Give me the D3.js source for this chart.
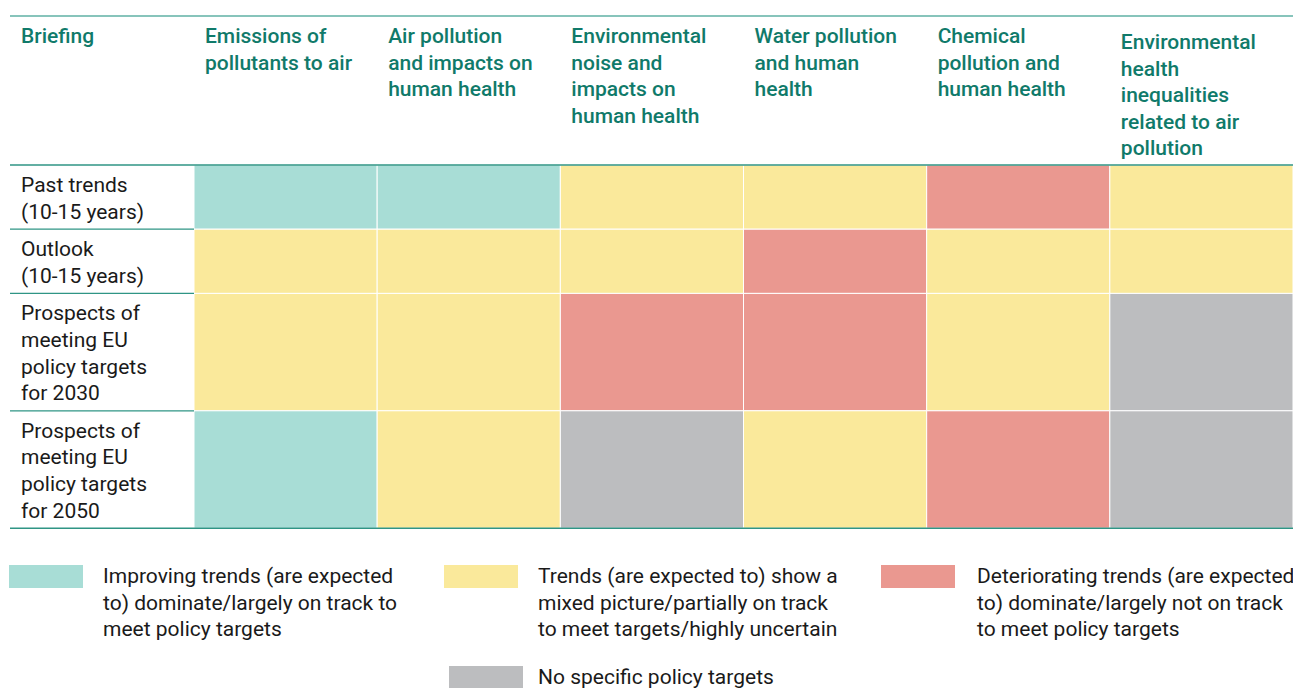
<!DOCTYPE html>
<html>
<head>
<meta charset="utf-8">
<script src="https://cdn.jsdelivr.net/npm/d3@7"></script>
<style>
  body { margin: 0; background: #fff; }
  svg { display: block; font-family: Roboto, "Noto Sans", sans-serif; }
</style>
</head>
<body>
<svg id="chart"></svg>
<script>
var width = 1293;
var height = 688;

// column headers (first is the row-label column)
var corner = ["Briefing"];
var columns = [
  ["Emissions of", "pollutants to air"],
  ["Air pollution", "and impacts on", "human health"],
  ["Environmental", "noise and", "impacts on", "human health"],
  ["Water pollution", "and human", "health"],
  ["Chemical", "pollution and", "human health"],
  ["Environmental", "health", "inequalities", "related to air", "pollution"]
];

var rows = [
  ["Past trends", "(10-15 years)"],
  ["Outlook", "(10-15 years)"],
  ["Prospects of", "meeting EU", "policy targets", "for 2030"],
  ["Prospects of", "meeting EU", "policy targets", "for 2050"]
];

// status per row, one entry per column
var pastTrends = ["improving", "improving", "mixed", "mixed", "deteriorating", "mixed"];
var outlook    = ["mixed", "mixed", "mixed", "deteriorating", "mixed", "mixed"];
var targets2030 = ["mixed", "mixed", "deteriorating", "deteriorating", "mixed", "none"];
var targets2050 = ["improving", "mixed", "none", "mixed", "deteriorating", "none"];
var grid = [pastTrends, outlook, targets2030, targets2050];

var statuses = ["improving", "mixed", "deteriorating", "none"];
var statusColors = ["#a8ddd6", "#fae99b", "#ea9890", "#bcbdbf"];
var legendLabels = [
  ["Improving trends (are expected", "to) dominate/largely on track to", "meet policy targets"],
  ["Trends (are expected to) show a", "mixed picture/partially on track", "to meet targets/highly uncertain"],
  ["Deteriorating trends (are expected", "to) dominate/largely not on track", "to meet policy targets"],
  ["No specific policy targets"]
];

var color = d3.scaleOrdinal().domain(statuses).range(statusColors);

var svg = d3.select("#chart")
  .attr("width", width)
  .attr("height", height);

var left = 10, labelW = 184, right = 1293;
var headTop = 16, headBottom = 165;
var lineH = 26.6;
var fs = 21;

var x = d3.scaleBand()
  .domain(d3.range(columns.length))
  .range([left + labelW, right]);

// row heights follow the number of label lines
var rowH = rows.map(r => r.length * lineH + 11);
var rowY = [headBottom];
rowH.forEach((h, i) => rowY.push(rowY[i] + h));
var y = i => rowY[i];

var teal = "#107a6a";

// cells
grid.forEach(function(row, ri) {
  svg.append("g")
    .selectAll("rect")
    .data(row)
    .enter()
    .append("rect")
      .attr("x", (d, ci) => x(ci))
      .attr("y", y(ri))
      .attr("width", x.bandwidth())
      .attr("height", rowH[ri])
      .attr("fill", d => color(d))
      .attr("stroke", "#fff")
      .attr("stroke-width", 1);
});

// rules
svg.append("line")
  .attr("x1", left).attr("x2", right)
  .attr("y1", headTop).attr("y2", headTop)
  .attr("stroke", "#5fb0a4").attr("stroke-width", 1.5);

rowY.forEach(function(yy, i) {
  var full = (i === 0 || i === rowY.length - 1);
  svg.append("line")
    .attr("x1", left).attr("x2", full ? right : left + labelW)
    .attr("y1", yy).attr("y2", yy)
    .attr("stroke", "#2f9585").attr("stroke-width", full ? 1.5 : 1.2);
});

// header text
function multiline(g, lines, x0, y0, lh) {
  var t = g.append("text").attr("x", x0).attr("y", y0);
  lines.forEach(function(l, i) {
    t.append("tspan").attr("x", x0).attr("y", y0 + i * lh).text(l);
  });
  return t;
}

var head = svg.append("g")
  .attr("fill", teal)
  .attr("font-size", fs)
  .attr("font-weight", 500);

multiline(head, corner, left + 11, 43, lineH);
columns.forEach(function(c, i) {
  var top = (i === columns.length - 1) ? 49 : 43;
  multiline(head, c, x(i) + 11, top, lineH);
});

// row labels
var lab = svg.append("g")
  .attr("fill", "#1a1a1a")
  .attr("font-size", fs);
rows.forEach(function(r, i) {
  multiline(lab, r, left + 11, y(i) + 27, lineH);
});

// legend
var legendSwatch = [[9, 565], [444, 565], [881, 565], [449, 666]];
var legendTextX = [103, 538, 977, 538];
var leg = svg.append("g")
  .selectAll("g")
  .data(statuses)
  .enter()
  .append("g");

leg.append("rect")
  .attr("x", (d, i) => legendSwatch[i][0])
  .attr("y", (d, i) => legendSwatch[i][1])
  .attr("width", 74)
  .attr("height", 23)
  .attr("fill", d => color(d));

leg.each(function(d, i) {
  var g = d3.select(this)
    .attr("fill", "#1a1a1a")
    .attr("font-size", fs);
  multiline(g, legendLabels[i], legendTextX[i], legendSwatch[i][1] + 18, 26.5);
});
</script>
</body>
</html>
